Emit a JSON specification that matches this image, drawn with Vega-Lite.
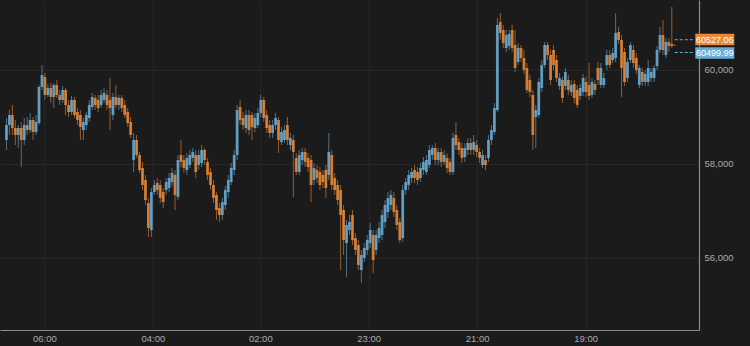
{
  "$schema": "https://vega.github.io/schema/vega-lite/v6.json",
  "width": 699,
  "height": 330,
  "autosize": {"type": "none"},
  "padding": {"left": 0, "top": 0, "right": 51, "bottom": 16},
  "background": "#1b1b1b",
  "config": {
    "view": {"stroke": null},
    "font": "Liberation Sans",
    "axis": {"labelFont": "Liberation Sans", "labelFontSize": 9.5, "labelColor": "#ababab", "ticks": false, "domainColor": "#8c8c8c", "domainWidth": 1.2, "gridColor": "#262626", "gridWidth": 1, "title": null}
  },
  "datasets": {
    "candles": [
      {"i":0,"o":58511,"h":58979,"l":58298,"c":58830},{"i":1,"o":58830,"h":59149,"l":58617,"c":59043},{"i":2,"o":59043,"h":59255,"l":58617,"c":58766},{"i":3,"o":58766,"h":58936,"l":58404,"c":58617},{"i":4,"o":58617,"h":58830,"l":58340,"c":58766},{"i":5,"o":58766,"h":58894,"l":57936,"c":58511},{"i":6,"o":58511,"h":58979,"l":58404,"c":58830},{"i":7,"o":58830,"h":59000,"l":58617,"c":58723},{"i":8,"o":58723,"h":59085,"l":58660,"c":58936},{"i":9,"o":58936,"h":59000,"l":58511,"c":58681},
      {"i":10,"o":58681,"h":59043,"l":58617,"c":58894},{"i":11,"o":58872,"h":59681,"l":58830,"c":59638},{"i":12,"o":59638,"h":60106,"l":59574,"c":59894},{"i":13,"o":59851,"h":59936,"l":59362,"c":59468},{"i":14,"o":59468,"h":59702,"l":59426,"c":59617},{"i":15,"o":59617,"h":59723,"l":59298,"c":59426},{"i":16,"o":59426,"h":59723,"l":59191,"c":59681},{"i":17,"o":59681,"h":59787,"l":59404,"c":59468},{"i":18,"o":59468,"h":59574,"l":59255,"c":59362},{"i":19,"o":59362,"h":59660,"l":59298,"c":59574},
      {"i":20,"o":59574,"h":59617,"l":59043,"c":59255},{"i":21,"o":59255,"h":59362,"l":59000,"c":59106},{"i":22,"o":59106,"h":59447,"l":59043,"c":59362},{"i":23,"o":59362,"h":59426,"l":58979,"c":59043},{"i":24,"o":59106,"h":59191,"l":58830,"c":58936},{"i":25,"o":59043,"h":59149,"l":58511,"c":58787},{"i":26,"o":58723,"h":58979,"l":58511,"c":58894},{"i":27,"o":58830,"h":59106,"l":58723,"c":59043},{"i":28,"o":58979,"h":59362,"l":58894,"c":59255},{"i":29,"o":59213,"h":59511,"l":59149,"c":59426},
      {"i":30,"o":59404,"h":59468,"l":59149,"c":59255},{"i":31,"o":59362,"h":59468,"l":59106,"c":59191},{"i":32,"o":59255,"h":59574,"l":59191,"c":59468},{"i":33,"o":59362,"h":59617,"l":59298,"c":59511},{"i":34,"o":59468,"h":59574,"l":59149,"c":59255},{"i":35,"o":59362,"h":59830,"l":58723,"c":59191},{"i":36,"o":59043,"h":59511,"l":58936,"c":59426},{"i":37,"o":59426,"h":59681,"l":59191,"c":59255},{"i":38,"o":59255,"h":59468,"l":59149,"c":59404},{"i":39,"o":59404,"h":59468,"l":59106,"c":59191},
      {"i":40,"o":59255,"h":59362,"l":58979,"c":59043},{"i":41,"o":59106,"h":59191,"l":58787,"c":58872},{"i":42,"o":58894,"h":59000,"l":58553,"c":58617},{"i":43,"o":58085,"h":58660,"l":57830,"c":58511},{"i":44,"o":58511,"h":58617,"l":58128,"c":58191},{"i":45,"o":58191,"h":58255,"l":57809,"c":57872},{"i":46,"o":57915,"h":58043,"l":57447,"c":57553},{"i":47,"o":57660,"h":57766,"l":57128,"c":57234},{"i":48,"o":57170,"h":57277,"l":56447,"c":56638},{"i":49,"o":56596,"h":57489,"l":56447,"c":57404},
      {"i":50,"o":57404,"h":57660,"l":57340,"c":57553},{"i":51,"o":57596,"h":57702,"l":57340,"c":57447},{"i":52,"o":57553,"h":57660,"l":57170,"c":57277},{"i":53,"o":57404,"h":57489,"l":57064,"c":57191},{"i":54,"o":57447,"h":57702,"l":57340,"c":57617},{"i":55,"o":57489,"h":57809,"l":57404,"c":57702},{"i":56,"o":57617,"h":57915,"l":57532,"c":57809},{"i":57,"o":57766,"h":57872,"l":57021,"c":57340},{"i":58,"o":57298,"h":58191,"l":57234,"c":58085},{"i":59,"o":58191,"h":58511,"l":57936,"c":58043},
      {"i":60,"o":58085,"h":58191,"l":57809,"c":57915},{"i":61,"o":57872,"h":58234,"l":57766,"c":58128},{"i":62,"o":57979,"h":58298,"l":57915,"c":58191},{"i":63,"o":58128,"h":58340,"l":58043,"c":58255},{"i":64,"o":58191,"h":58298,"l":57702,"c":57830},{"i":65,"o":57979,"h":58298,"l":57872,"c":58191},{"i":66,"o":58021,"h":58404,"l":57936,"c":58298},{"i":67,"o":58298,"h":58340,"l":57979,"c":58085},{"i":68,"o":58043,"h":58128,"l":57660,"c":57766},{"i":69,"o":57830,"h":57915,"l":57447,"c":57553},
      {"i":70,"o":57553,"h":57660,"l":57170,"c":57277},{"i":71,"o":57340,"h":57404,"l":56809,"c":57021},{"i":72,"o":57064,"h":57170,"l":56766,"c":56915},{"i":73,"o":56915,"h":57277,"l":56809,"c":57191},{"i":74,"o":57128,"h":57532,"l":57021,"c":57447},{"i":75,"o":57404,"h":57766,"l":57277,"c":57660},{"i":76,"o":57617,"h":58021,"l":57553,"c":57915},{"i":77,"o":57872,"h":58298,"l":57766,"c":58191},{"i":78,"o":58191,"h":59255,"l":58085,"c":59149},{"i":79,"o":59213,"h":59362,"l":58830,"c":58936},
      {"i":80,"o":58979,"h":59106,"l":58723,"c":58830},{"i":81,"o":58766,"h":59149,"l":58660,"c":59043},{"i":82,"o":59043,"h":59149,"l":58617,"c":58723},{"i":83,"o":59043,"h":59106,"l":58511,"c":58787},{"i":84,"o":58766,"h":59085,"l":58681,"c":58979},{"i":85,"o":58830,"h":59191,"l":58766,"c":59085},{"i":86,"o":59085,"h":59468,"l":59000,"c":59362},{"i":87,"o":59362,"h":59426,"l":58894,"c":58979},{"i":88,"o":59043,"h":59149,"l":58660,"c":58766},{"i":89,"o":58830,"h":58936,"l":58553,"c":58660},
      {"i":90,"o":58660,"h":58936,"l":58553,"c":58830},{"i":91,"o":58830,"h":59085,"l":58723,"c":58979},{"i":92,"o":58936,"h":59000,"l":58234,"c":58511},{"i":93,"o":58468,"h":58787,"l":58404,"c":58681},{"i":94,"o":58511,"h":58830,"l":58447,"c":58723},{"i":95,"o":58830,"h":59000,"l":58404,"c":58511},{"i":96,"o":58404,"h":58660,"l":58298,"c":58553},{"i":97,"o":58511,"h":58617,"l":57298,"c":58255},{"i":98,"o":58128,"h":58234,"l":57766,"c":57830},{"i":99,"o":57830,"h":58298,"l":57766,"c":58191},
      {"i":100,"o":58085,"h":58340,"l":57979,"c":58255},{"i":101,"o":58255,"h":58340,"l":57936,"c":58043},{"i":102,"o":58128,"h":58234,"l":57830,"c":57936},{"i":103,"o":58085,"h":58191,"l":57191,"c":57553},{"i":104,"o":57660,"h":58021,"l":57553,"c":57915},{"i":105,"o":57872,"h":57979,"l":57596,"c":57702},{"i":106,"o":57830,"h":57936,"l":57447,"c":57553},{"i":107,"o":57766,"h":57872,"l":57489,"c":57617},{"i":108,"o":57872,"h":57979,"l":57277,"c":57489},{"i":109,"o":57766,"h":58660,"l":57660,"c":58255},
      {"i":110,"o":58191,"h":58298,"l":57447,"c":57553},{"i":111,"o":57702,"h":57809,"l":57340,"c":57447},{"i":112,"o":57553,"h":57660,"l":57128,"c":57234},{"i":113,"o":57447,"h":57553,"l":55745,"c":56915},{"i":114,"o":57021,"h":57128,"l":56064,"c":56383},{"i":115,"o":56319,"h":56809,"l":55596,"c":56702},{"i":116,"o":56596,"h":56915,"l":56489,"c":56766},{"i":117,"o":56915,"h":57021,"l":56277,"c":56383},{"i":118,"o":56425,"h":56532,"l":56064,"c":56170},{"i":119,"o":56277,"h":56383,"l":55745,"c":55851},
      {"i":120,"o":55745,"h":56170,"l":55468,"c":56064},{"i":121,"o":56000,"h":56319,"l":55915,"c":56213},{"i":122,"o":56170,"h":56489,"l":56064,"c":56383},{"i":123,"o":56319,"h":56745,"l":56213,"c":56596},{"i":124,"o":56489,"h":56596,"l":55681,"c":55957},{"i":125,"o":56170,"h":56596,"l":56064,"c":56489},{"i":126,"o":56425,"h":56766,"l":56319,"c":56638},{"i":127,"o":56489,"h":57021,"l":56383,"c":56915},{"i":128,"o":56766,"h":57234,"l":56638,"c":57128},{"i":129,"o":56979,"h":57404,"l":56851,"c":57277},
      {"i":130,"o":57128,"h":57447,"l":57021,"c":57340},{"i":131,"o":57277,"h":57404,"l":56872,"c":56979},{"i":132,"o":57021,"h":57128,"l":56596,"c":56702},{"i":133,"o":56766,"h":56851,"l":56319,"c":56383},{"i":134,"o":56425,"h":57553,"l":56340,"c":57447},{"i":135,"o":57447,"h":57702,"l":57340,"c":57617},{"i":136,"o":57553,"h":57872,"l":57447,"c":57766},{"i":137,"o":57702,"h":57915,"l":57596,"c":57830},{"i":138,"o":57872,"h":57979,"l":57596,"c":57702},{"i":139,"o":57830,"h":57936,"l":57553,"c":57660},
      {"i":140,"o":57702,"h":58021,"l":57617,"c":57915},{"i":141,"o":57872,"h":58149,"l":57766,"c":58043},{"i":142,"o":57830,"h":58191,"l":57766,"c":58085},{"i":143,"o":57979,"h":58404,"l":57915,"c":58298},{"i":144,"o":58191,"h":58404,"l":58085,"c":58340},{"i":145,"o":58340,"h":58447,"l":57979,"c":58085},{"i":146,"o":58085,"h":58340,"l":57979,"c":58255},{"i":147,"o":58255,"h":58340,"l":57936,"c":58043},{"i":148,"o":58043,"h":58298,"l":57979,"c":58191},{"i":149,"o":58128,"h":58234,"l":57809,"c":57915},
      {"i":150,"o":58043,"h":58128,"l":57766,"c":57830},{"i":151,"o":57830,"h":58660,"l":57766,"c":58553},{"i":152,"o":58617,"h":58894,"l":58298,"c":58404},{"i":153,"o":58468,"h":58553,"l":58191,"c":58298},{"i":154,"o":58340,"h":58447,"l":58021,"c":58128},{"i":155,"o":58149,"h":58447,"l":58043,"c":58340},{"i":156,"o":58298,"h":58553,"l":58191,"c":58447},{"i":157,"o":58447,"h":58553,"l":58191,"c":58298},{"i":158,"o":58298,"h":58617,"l":58191,"c":58468},{"i":159,"o":58404,"h":58511,"l":58149,"c":58255},
      {"i":160,"o":58255,"h":58340,"l":58021,"c":58128},{"i":161,"o":57979,"h":58298,"l":57915,"c":58191},{"i":162,"o":58085,"h":58191,"l":57872,"c":57979},{"i":163,"o":58128,"h":58617,"l":58043,"c":58511},{"i":164,"o":58511,"h":58830,"l":58404,"c":58723},{"i":165,"o":58681,"h":59298,"l":58617,"c":59191},{"i":166,"o":59149,"h":61106,"l":59106,"c":60957},{"i":167,"o":61021,"h":61213,"l":60638,"c":60787},{"i":168,"o":60851,"h":60957,"l":60468,"c":60574},{"i":169,"o":60468,"h":60851,"l":60383,"c":60745},
      {"i":170,"o":60511,"h":60851,"l":60426,"c":60766},{"i":171,"o":60851,"h":60957,"l":60383,"c":60468},{"i":172,"o":60532,"h":60851,"l":59957,"c":60043},{"i":173,"o":60170,"h":60574,"l":60106,"c":60468},{"i":174,"o":60468,"h":60532,"l":60170,"c":60255},{"i":175,"o":60255,"h":60426,"l":59915,"c":60000},{"i":176,"o":60043,"h":60149,"l":59511,"c":59574},{"i":177,"o":59787,"h":59894,"l":59426,"c":59532},{"i":178,"o":59468,"h":59574,"l":58298,"c":58617},{"i":179,"o":59000,"h":59255,"l":58340,"c":59149},
      {"i":180,"o":59043,"h":59830,"l":58979,"c":59745},{"i":181,"o":59617,"h":60213,"l":59532,"c":60106},{"i":182,"o":60106,"h":60596,"l":60043,"c":60532},{"i":183,"o":60532,"h":60596,"l":60213,"c":60319},{"i":184,"o":60319,"h":60426,"l":59681,"c":59787},{"i":185,"o":60426,"h":60532,"l":60000,"c":60106},{"i":186,"o":60213,"h":60319,"l":59745,"c":59830},{"i":187,"o":59660,"h":59936,"l":59574,"c":59830},{"i":188,"o":59787,"h":59851,"l":59298,"c":59404},{"i":189,"o":59660,"h":60043,"l":59574,"c":59957},
      {"i":190,"o":59787,"h":59894,"l":59468,"c":59574},{"i":191,"o":59532,"h":59787,"l":59447,"c":59681},{"i":192,"o":59702,"h":59787,"l":59298,"c":59404},{"i":193,"o":59574,"h":59681,"l":59191,"c":59255},{"i":194,"o":59447,"h":59702,"l":59362,"c":59617},{"i":195,"o":59532,"h":59915,"l":59447,"c":59830},{"i":196,"o":59745,"h":59851,"l":59426,"c":59532},{"i":197,"o":59681,"h":60149,"l":59362,"c":59447},{"i":198,"o":59468,"h":59830,"l":59404,"c":59745},{"i":199,"o":59702,"h":59787,"l":59468,"c":59574},
      {"i":200,"o":60043,"h":60170,"l":59681,"c":59787},{"i":201,"o":59681,"h":60149,"l":59617,"c":60043},{"i":202,"o":59681,"h":59936,"l":59617,"c":59830},{"i":203,"o":60106,"h":60426,"l":60000,"c":60319},{"i":204,"o":60319,"h":60426,"l":60043,"c":60106},{"i":205,"o":60213,"h":60468,"l":60149,"c":60362},{"i":206,"o":60255,"h":61213,"l":60170,"c":60787},{"i":207,"o":60808,"h":60915,"l":60553,"c":60638},{"i":208,"o":60638,"h":60745,"l":59426,"c":60043},{"i":209,"o":60383,"h":60468,"l":59660,"c":59745},
      {"i":210,"o":59830,"h":60255,"l":59745,"c":60170},{"i":211,"o":60213,"h":60596,"l":60149,"c":60532},{"i":212,"o":60426,"h":60532,"l":60043,"c":60149},{"i":213,"o":60255,"h":60362,"l":59915,"c":60000},{"i":214,"o":59681,"h":60106,"l":59617,"c":60043},{"i":215,"o":59957,"h":60043,"l":59660,"c":59745},{"i":216,"o":59745,"h":60000,"l":59660,"c":59915},{"i":217,"o":59745,"h":60213,"l":59660,"c":60043},{"i":218,"o":59830,"h":60043,"l":59745,"c":59957},{"i":219,"o":59830,"h":60106,"l":59745,"c":60043},
      {"i":220,"o":60085,"h":60511,"l":60000,"c":60426},{"i":221,"o":60426,"h":60915,"l":60362,"c":60745},{"i":222,"o":60745,"h":61064,"l":60319,"c":60426},{"i":223,"o":60319,"h":60680,"l":60255,"c":60596},{"i":224,"o":60596,"h":60680,"l":60383,"c":60511},{"i":225,"o":60553,"h":61340,"l":60468,"c":60511},{"i":226,"o":60532,"h":60553,"l":60511,"c":60527}
    ],
    "tags": [
      {"i": 226, "p": 60527.06, "k": "last", "t": "60527.06"},
      {"i": 226, "p": 60499.99, "k": "prev", "t": "60499.99"}
    ]
  },
  "layer": [
    {
      "data": {"name": "candles"},
      "mark": {"type": "rule", "strokeWidth": 1, "opacity": 0.6},
      "encoding": {
        "x": {"field": "i", "type": "quantitative", "scale": {"domain": [-0.5, 232.5], "nice": false, "zero": false},
          "axis": {"orient": "bottom", "values": [12.83, 49.5, 85.83, 122.5, 159.17, 195.83], "grid": true, "labelPadding": 3,
            "labelExpr": "datum.value < 30 ? '06:00' : datum.value < 70 ? '04:00' : datum.value < 100 ? '02:00' : datum.value < 140 ? '23:00' : datum.value < 180 ? '21:00' : '19:00'"}},
        "y": {"field": "l", "type": "quantitative", "scale": {"domain": [54468, 61489], "nice": false, "zero": false},
          "axis": {"orient": "right", "values": [56000, 58000, 60000], "labelExpr": "format(datum.value, ',')", "grid": true, "labelPadding": 5}},
        "y2": {"field": "h"},
        "color": {"condition": {"test": "datum.c < datum.o", "value": "#e8893a"}, "value": "#6aaed6"}
      }
    },
    {
      "data": {"name": "candles"},
      "mark": {"type": "bar", "width": 2.8, "opacity": 0.85},
      "encoding": {
        "x": {"field": "i", "type": "quantitative"},
        "y": {"field": "o", "type": "quantitative"},
        "y2": {"field": "c"},
        "color": {"condition": {"test": "datum.c < datum.o", "value": "#e8893a"}, "value": "#6aaed6"}
      }
    },
    {
      "data": {"name": "tags"},
      "transform": [{"filter": "datum.k == 'last'"}],
      "mark": {"type": "rule", "strokeDash": [3, 2], "strokeWidth": 1, "color": "#e8893a", "yOffset": -5.5},
      "encoding": {
        "x": {"field": "i", "type": "quantitative"},
        "x2": {"datum": 232.5},
        "y": {"field": "p", "type": "quantitative"}
      }
    },
    {
      "data": {"name": "tags"},
      "transform": [{"filter": "datum.k == 'prev'"}],
      "mark": {"type": "rule", "strokeDash": [3, 2], "strokeWidth": 1, "color": "#6aaed6", "yOffset": 6},
      "encoding": {
        "x": {"field": "i", "type": "quantitative"},
        "x2": {"datum": 232.5},
        "y": {"field": "p", "type": "quantitative"}
      }
    },
    {
      "data": {"name": "tags"},
      "transform": [{"filter": "datum.k == 'last'"}],
      "mark": {"type": "point", "filled": true, "opacity": 1, "strokeWidth": 0, "size": 1521, "shape": "M-1,-0.3L1,-0.3L1,0.3L-1,0.3Z", "color": "#e8893a", "xOffset": 40, "yOffset": -5.7},
      "encoding": {
        "x": {"field": "i", "type": "quantitative"},
        "y": {"field": "p", "type": "quantitative"}
      }
    },
    {
      "data": {"name": "tags"},
      "transform": [{"filter": "datum.k == 'prev'"}],
      "mark": {"type": "point", "filled": true, "opacity": 1, "strokeWidth": 0, "size": 1521, "shape": "M-1,-0.3L1,-0.3L1,0.3L-1,0.3Z", "color": "#6aaed6", "xOffset": 40, "yOffset": 6.5},
      "encoding": {
        "x": {"field": "i", "type": "quantitative"},
        "y": {"field": "p", "type": "quantitative"}
      }
    },
    {
      "data": {"name": "tags"},
      "transform": [{"filter": "datum.k == 'last'"}],
      "mark": {"type": "text", "color": "#ffffff", "fontSize": 9, "font": "Liberation Sans", "align": "center", "baseline": "middle", "dx": 40, "dy": -5.2},
      "encoding": {
        "x": {"field": "i", "type": "quantitative"},
        "y": {"field": "p", "type": "quantitative"},
        "text": {"field": "t"}
      }
    },
    {
      "data": {"name": "tags"},
      "transform": [{"filter": "datum.k == 'prev'"}],
      "mark": {"type": "text", "color": "#ffffff", "fontSize": 9, "font": "Liberation Sans", "align": "center", "baseline": "middle", "dx": 40, "dy": 7},
      "encoding": {
        "x": {"field": "i", "type": "quantitative"},
        "y": {"field": "p", "type": "quantitative"},
        "text": {"field": "t"}
      }
    }
  ]
}
